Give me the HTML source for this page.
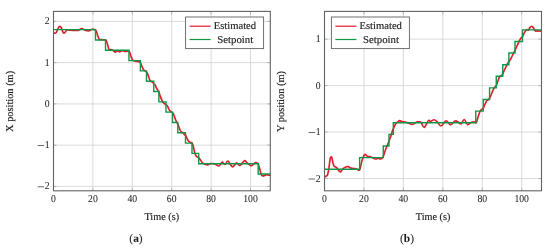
<!DOCTYPE html>
<html><head><meta charset="utf-8"><style>
html,body{margin:0;padding:0;background:#fff;width:550px;height:250px;overflow:hidden}
svg{display:block;will-change:transform}
text{text-rendering:geometricPrecision;font-family:"Liberation Serif",serif;fill:#222;stroke:#222;stroke-width:0.16px}
.g{stroke:#d2d2d2;stroke-width:0.8}
.tm{stroke:#a8a8a8;stroke-width:0.8}
.fr{fill:none;stroke:#626262;stroke-width:1.1}
.sp{fill:none;stroke:#0f9647;stroke-width:1.4;stroke-linejoin:miter}
.es{fill:none;stroke:#e01c2b;stroke-width:1.65;stroke-linejoin:round;stroke-linecap:round}
.tk{font-size:10.5px;stroke-width:0.04px}
.lg{fill:#fff;stroke:#626262;stroke-width:0.9}
.ll{stroke-width:1.2}
.lt{font-size:10.5px}
.al{font-size:10.5px}
.cap{font-size:11.4px;stroke-width:0.04px}
</style></head><body>
<svg width="550" height="250" viewBox="0 0 550 250">
<rect width="550" height="250" fill="#fff"/>
<defs><clipPath id="cX"><rect x="53.5" y="11.4" width="216.8" height="179.4"/></clipPath>
<clipPath id="cY"><rect x="324.5" y="11.4" width="217" height="179.4"/></clipPath></defs>
<line x1="53.5" y1="11.4" x2="53.5" y2="190.8" class="g"/>
<line x1="92.9" y1="11.4" x2="92.9" y2="190.8" class="g"/>
<line x1="132.3" y1="11.4" x2="132.3" y2="190.8" class="g"/>
<line x1="171.7" y1="11.4" x2="171.7" y2="190.8" class="g"/>
<line x1="211.1" y1="11.4" x2="211.1" y2="190.8" class="g"/>
<line x1="250.5" y1="11.4" x2="250.5" y2="190.8" class="g"/>
<line x1="53.5" y1="21.4" x2="270.3" y2="21.4" class="g"/>
<line x1="53.5" y1="62.65" x2="270.3" y2="62.65" class="g"/>
<line x1="53.5" y1="103.9" x2="270.3" y2="103.9" class="g"/>
<line x1="53.5" y1="145.15" x2="270.3" y2="145.15" class="g"/>
<line x1="53.5" y1="186.4" x2="270.3" y2="186.4" class="g"/>
<line x1="53.5" y1="190.8" x2="53.5" y2="187.8" class="tm"/>
<line x1="53.5" y1="11.4" x2="53.5" y2="14.4" class="tm"/>
<line x1="92.9" y1="190.8" x2="92.9" y2="187.8" class="tm"/>
<line x1="92.9" y1="11.4" x2="92.9" y2="14.4" class="tm"/>
<line x1="132.3" y1="190.8" x2="132.3" y2="187.8" class="tm"/>
<line x1="132.3" y1="11.4" x2="132.3" y2="14.4" class="tm"/>
<line x1="171.7" y1="190.8" x2="171.7" y2="187.8" class="tm"/>
<line x1="171.7" y1="11.4" x2="171.7" y2="14.4" class="tm"/>
<line x1="211.1" y1="190.8" x2="211.1" y2="187.8" class="tm"/>
<line x1="211.1" y1="11.4" x2="211.1" y2="14.4" class="tm"/>
<line x1="250.5" y1="190.8" x2="250.5" y2="187.8" class="tm"/>
<line x1="250.5" y1="11.4" x2="250.5" y2="14.4" class="tm"/>
<line x1="53.5" y1="21.4" x2="56.5" y2="21.4" class="tm"/>
<line x1="270.3" y1="21.4" x2="267.3" y2="21.4" class="tm"/>
<line x1="53.5" y1="62.65" x2="56.5" y2="62.65" class="tm"/>
<line x1="270.3" y1="62.65" x2="267.3" y2="62.65" class="tm"/>
<line x1="53.5" y1="103.9" x2="56.5" y2="103.9" class="tm"/>
<line x1="270.3" y1="103.9" x2="267.3" y2="103.9" class="tm"/>
<line x1="53.5" y1="145.15" x2="56.5" y2="145.15" class="tm"/>
<line x1="270.3" y1="145.15" x2="267.3" y2="145.15" class="tm"/>
<line x1="53.5" y1="186.4" x2="56.5" y2="186.4" class="tm"/>
<line x1="270.3" y1="186.4" x2="267.3" y2="186.4" class="tm"/>
<g clip-path="url(#cX)">
<path d="M53.5 32.6C53.68 32.7 54.22 33.13 54.6 33.2C54.98 33.27 55.42 33.33 55.8 33C56.18 32.67 56.55 31.9 56.9 31.2C57.25 30.5 57.55 29.52 57.9 28.8C58.25 28.08 58.65 27.3 59 26.9C59.35 26.5 59.67 26.33 60 26.4C60.33 26.47 60.67 26.77 61 27.3C61.33 27.83 61.67 28.78 62 29.6C62.33 30.42 62.68 31.62 63 32.2C63.32 32.78 63.6 33.03 63.9 33.1C64.2 33.17 64.52 32.87 64.8 32.6C65.08 32.33 65.32 31.9 65.6 31.5C65.88 31.1 66.13 30.47 66.5 30.2C66.87 29.93 67.22 29.88 67.8 29.9C68.38 29.92 68.97 30.22 70 30.3C71.03 30.38 72.67 30.38 74 30.4C75.33 30.42 76.7 30.7 78 30.4C79.3 30.1 80.63 28.63 81.8 28.6C82.97 28.57 83.83 29.83 85 30.2C86.17 30.57 87.57 30.97 88.8 30.8C90.03 30.63 91.37 29.35 92.4 29.2C93.43 29.05 94.37 29.6 95 29.9C95.63 30.2 95.78 30.15 96.2 31C96.62 31.85 97 33.63 97.5 35C98 36.37 98.7 38.43 99.2 39.2C99.7 39.97 99.87 39.52 100.5 39.6C101.13 39.68 102.12 39.63 103 39.7C103.88 39.77 105.2 39.7 105.8 40C106.4 40.3 106.23 40.5 106.6 41.5C106.97 42.5 107.6 44.7 108 46C108.4 47.3 108.33 48.67 109 49.3C109.67 49.93 110.97 49.33 112 49.8C113.03 50.27 114.27 51.95 115.2 52.1C116.13 52.25 116.88 50.75 117.6 50.7C118.32 50.65 118.7 51.8 119.5 51.8C120.3 51.8 121.38 50.75 122.4 50.7C123.42 50.65 124.58 51.45 125.6 51.5C126.62 51.55 127.83 50.92 128.5 51C129.17 51.08 129.15 51 129.6 52C130.05 53 130.67 55.62 131.2 57C131.73 58.38 132.17 59.63 132.8 60.3C133.43 60.97 134.3 60.8 135 61C135.7 61.2 136.13 61.28 137 61.5C137.87 61.72 139.38 61.48 140.2 62.3C141.02 63.12 141.33 65.15 141.9 66.4C142.47 67.65 143.13 69.1 143.6 69.8C144.07 70.5 144.23 70.23 144.7 70.6C145.17 70.97 145.93 71.48 146.4 72C146.87 72.52 147.13 72.95 147.5 73.7C147.87 74.45 148.23 75.48 148.6 76.5C148.97 77.52 149.32 79 149.7 79.8C150.08 80.6 150.43 80.92 150.9 81.3C151.37 81.68 151.95 81.6 152.5 82.1C153.05 82.6 153.75 83.82 154.2 84.3C154.65 84.78 154.83 84.38 155.2 85C155.57 85.62 155.8 86.87 156.4 88C157 89.13 158.2 90.53 158.8 91.8C159.4 93.07 159.53 94.3 160 95.6C160.47 96.9 161.13 98.53 161.6 99.6C162.07 100.67 162.4 101.38 162.8 102C163.2 102.62 163.6 102.95 164 103.3C164.4 103.65 164.8 103.82 165.2 104.1C165.6 104.38 166 104.63 166.4 105C166.8 105.37 167.27 105.77 167.6 106.3C167.93 106.83 168.07 107.5 168.4 108.2C168.73 108.9 169.2 109.95 169.6 110.5C170 111.05 170.33 111.17 170.8 111.5C171.27 111.83 171.97 112.12 172.4 112.5C172.83 112.88 173.1 113.22 173.4 113.8C173.7 114.38 173.87 115.1 174.2 116C174.53 116.9 175.02 118.23 175.4 119.2C175.78 120.17 176.13 121.05 176.5 121.8C176.87 122.55 177.23 122.92 177.6 123.7C177.97 124.48 178.33 125.57 178.7 126.5C179.07 127.43 179.43 128.48 179.8 129.3C180.17 130.12 180.43 130.83 180.9 131.4C181.37 131.97 182.03 132.22 182.6 132.7C183.17 133.18 183.77 133.78 184.3 134.3C184.83 134.82 185.28 134.98 185.8 135.8C186.32 136.62 186.9 138.25 187.4 139.2C187.9 140.15 188.3 140.95 188.8 141.5C189.3 142.05 189.83 142.22 190.4 142.5C190.97 142.78 191.67 142.32 192.2 143.2C192.73 144.08 193.17 146.17 193.6 147.8C194.03 149.43 194.35 151.6 194.8 153C195.25 154.4 195.85 155.53 196.3 156.2C196.75 156.87 197.05 156.7 197.5 157C197.95 157.3 198.45 157.4 199 158C199.55 158.6 200.1 159.7 200.8 160.6C201.5 161.5 202.1 162.68 203.2 163.4C204.3 164.12 206.17 164.87 207.4 164.9C208.63 164.93 209.4 163.77 210.6 163.6C211.8 163.43 213.2 163.5 214.6 163.9C216 164.3 217.77 166.28 219 166C220.23 165.72 221 162.45 222 162.2C223 161.95 224 164.7 225 164.5C226 164.3 226.75 160.62 228 161C229.25 161.38 231.08 166.5 232.5 166.8C233.92 167.1 235.25 163.02 236.5 162.8C237.75 162.58 238.68 165.85 240 165.5C241.32 165.15 243.2 161.12 244.4 160.7C245.6 160.28 246.03 162.15 247.2 163C248.37 163.85 250.03 165.87 251.4 165.8C252.77 165.73 254.3 162.93 255.4 162.6C256.5 162.27 257.27 162.7 258 163.8C258.73 164.9 259.2 167.3 259.8 169.2C260.4 171.1 260.9 174.1 261.6 175.2C262.3 176.3 263.2 175.9 264 175.8C264.8 175.7 265.6 174.7 266.4 174.6C267.2 174.5 268.15 175.13 268.8 175.2C269.45 175.27 270.05 175.03 270.3 175" class="es"/>
<path d="M53.5 29.65H95.46V39.96H105.51V50.28H128.95V60.59H140.38V70.9H146.48V81.21H153.77V91.53H158.89V101.84H165.99V112.15H172.49V122.46H177.81V132.78H185.49V143.09H191.99V153.4H198.69V163.71H258.18V174.03H270.2" class="sp"/>
</g>
<rect x="53.5" y="11.4" width="216.8" height="179.4" class="fr"/>
<text x="53.5" y="201.7" text-anchor="middle" class="tk" textLength="4.85" lengthAdjust="spacingAndGlyphs">0</text>
<text x="92.9" y="201.7" text-anchor="middle" class="tk" textLength="9.7" lengthAdjust="spacingAndGlyphs">20</text>
<text x="132.3" y="201.7" text-anchor="middle" class="tk" textLength="9.7" lengthAdjust="spacingAndGlyphs">40</text>
<text x="171.7" y="201.7" text-anchor="middle" class="tk" textLength="9.7" lengthAdjust="spacingAndGlyphs">60</text>
<text x="211.1" y="201.7" text-anchor="middle" class="tk" textLength="9.7" lengthAdjust="spacingAndGlyphs">80</text>
<text x="250.5" y="201.7" text-anchor="middle" class="tk" textLength="14.55" lengthAdjust="spacingAndGlyphs">100</text>
<text x="49.5" y="24.4" text-anchor="end" class="tk" textLength="4.85" lengthAdjust="spacingAndGlyphs">2</text>
<text x="49.5" y="65.65" text-anchor="end" class="tk" textLength="4.85" lengthAdjust="spacingAndGlyphs">1</text>
<text x="49.5" y="106.9" text-anchor="end" class="tk" textLength="4.85" lengthAdjust="spacingAndGlyphs">0</text>
<text x="49.5" y="148.15" text-anchor="end" class="tk" textLength="4.85" lengthAdjust="spacingAndGlyphs">1</text>
<rect x="37.6" y="145.25" width="6.5" height="0.7" fill="#2a2a2a"/>
<text x="49.5" y="189.4" text-anchor="end" class="tk" textLength="4.85" lengthAdjust="spacingAndGlyphs">2</text>
<rect x="37.6" y="186.5" width="6.5" height="0.7" fill="#2a2a2a"/>
<rect x="185.6" y="17" width="78" height="31.6" class="lg"/>
<line x1="189.6" y1="26.2" x2="210.6" y2="26.2" stroke="#e01c2b" class="ll"/>
<line x1="189.6" y1="39.5" x2="210.6" y2="39.5" stroke="#0f9647" class="ll"/>
<text x="213.7" y="29.1" class="lt" textLength="42.4" lengthAdjust="spacingAndGlyphs">Estimated</text>
<text x="217.2" y="42.5" class="lt" textLength="36" lengthAdjust="spacingAndGlyphs">Setpoint</text>
<line x1="324.5" y1="11.4" x2="324.5" y2="190.8" class="g"/>
<line x1="363.94" y1="11.4" x2="363.94" y2="190.8" class="g"/>
<line x1="403.38" y1="11.4" x2="403.38" y2="190.8" class="g"/>
<line x1="442.82" y1="11.4" x2="442.82" y2="190.8" class="g"/>
<line x1="482.26" y1="11.4" x2="482.26" y2="190.8" class="g"/>
<line x1="521.7" y1="11.4" x2="521.7" y2="190.8" class="g"/>
<line x1="324.5" y1="39.13" x2="541.5" y2="39.13" class="g"/>
<line x1="324.5" y1="85.6" x2="541.5" y2="85.6" class="g"/>
<line x1="324.5" y1="132.07" x2="541.5" y2="132.07" class="g"/>
<line x1="324.5" y1="178.54" x2="541.5" y2="178.54" class="g"/>
<line x1="324.5" y1="190.8" x2="324.5" y2="187.8" class="tm"/>
<line x1="324.5" y1="11.4" x2="324.5" y2="14.4" class="tm"/>
<line x1="363.94" y1="190.8" x2="363.94" y2="187.8" class="tm"/>
<line x1="363.94" y1="11.4" x2="363.94" y2="14.4" class="tm"/>
<line x1="403.38" y1="190.8" x2="403.38" y2="187.8" class="tm"/>
<line x1="403.38" y1="11.4" x2="403.38" y2="14.4" class="tm"/>
<line x1="442.82" y1="190.8" x2="442.82" y2="187.8" class="tm"/>
<line x1="442.82" y1="11.4" x2="442.82" y2="14.4" class="tm"/>
<line x1="482.26" y1="190.8" x2="482.26" y2="187.8" class="tm"/>
<line x1="482.26" y1="11.4" x2="482.26" y2="14.4" class="tm"/>
<line x1="521.7" y1="190.8" x2="521.7" y2="187.8" class="tm"/>
<line x1="521.7" y1="11.4" x2="521.7" y2="14.4" class="tm"/>
<line x1="324.5" y1="39.13" x2="327.5" y2="39.13" class="tm"/>
<line x1="541.5" y1="39.13" x2="538.5" y2="39.13" class="tm"/>
<line x1="324.5" y1="85.6" x2="327.5" y2="85.6" class="tm"/>
<line x1="541.5" y1="85.6" x2="538.5" y2="85.6" class="tm"/>
<line x1="324.5" y1="132.07" x2="327.5" y2="132.07" class="tm"/>
<line x1="541.5" y1="132.07" x2="538.5" y2="132.07" class="tm"/>
<line x1="324.5" y1="178.54" x2="327.5" y2="178.54" class="tm"/>
<line x1="541.5" y1="178.54" x2="538.5" y2="178.54" class="tm"/>
<g clip-path="url(#cY)">
<path d="M324.5 176.6C324.72 176.57 325.42 176.53 325.8 176.4C326.18 176.27 326.48 176.13 326.8 175.8C327.12 175.47 327.38 175.42 327.7 174.4C328.02 173.38 328.4 171.52 328.7 169.7C329 167.88 329.23 165.4 329.5 163.5C329.77 161.6 330.03 159.4 330.3 158.3C330.57 157.2 330.83 156.98 331.1 156.9C331.37 156.82 331.65 157.07 331.9 157.8C332.15 158.53 332.35 160.13 332.6 161.3C332.85 162.47 333.08 163.93 333.4 164.8C333.72 165.67 334.12 166.12 334.5 166.5C334.88 166.88 335.27 166.83 335.7 167.1C336.13 167.37 336.62 167.58 337.1 168.1C337.58 168.62 338.17 169.62 338.6 170.2C339.03 170.78 339.35 171.35 339.7 171.6C340.05 171.85 340.35 171.93 340.7 171.7C341.05 171.47 341.45 170.68 341.8 170.2C342.15 169.72 342.3 169.25 342.8 168.8C343.3 168.35 344.02 167.88 344.8 167.5C345.58 167.12 346.42 166.4 347.5 166.5C348.58 166.6 350.22 167.75 351.3 168.1C352.38 168.45 353.22 168.48 354 168.6C354.78 168.72 355.07 168.58 356 168.8C356.93 169.02 358.6 171.27 359.6 169.9C360.6 168.53 361.15 163.17 362 160.6C362.85 158.03 363.77 155.17 364.7 154.5C365.63 153.83 366.72 156.25 367.6 156.6C368.48 156.95 368.67 156.2 370 156.6C371.33 157 374.27 158.73 375.6 159C376.93 159.27 377.2 158.2 378 158.2C378.8 158.2 379.6 159.13 380.4 159C381.2 158.87 381.92 159.02 382.8 157.4C383.68 155.78 384.52 152.4 385.7 149.3C386.88 146.2 388.73 141.95 389.9 138.8C391.07 135.65 391.77 132.85 392.7 130.4C393.63 127.95 394.68 125.5 395.5 124.1C396.32 122.7 396.9 122.58 397.6 122C398.3 121.42 398.97 120.68 399.7 120.6C400.43 120.52 400.95 121.23 402 121.5C403.05 121.77 404.83 121.9 406 122.2C407.17 122.5 407.92 122.92 409 123.3C410.08 123.68 411.23 124.72 412.5 124.5C413.77 124.28 415.52 122.43 416.6 122C417.68 121.57 418.27 121.85 419 121.9C419.73 121.95 420.13 121.38 421 122.3C421.87 123.22 422.95 127.7 424.2 127.4C425.45 127.1 427.45 121.48 428.5 120.5C429.55 119.52 429.58 121.63 430.5 121.5C431.42 121.37 432.92 119.7 434 119.7C435.08 119.7 435.83 120.45 437 121.5C438.17 122.55 439.5 126.12 441 126C442.5 125.88 444.42 121 446 120.8C447.58 120.6 449 124.77 450.5 124.8C452 124.83 453.75 121.5 455 121C456.25 120.5 457 121.3 458 121.8C459 122.3 459.97 124.38 461 124C462.03 123.62 463.12 119.42 464.2 119.5C465.28 119.58 466.37 124 467.5 124.5C468.63 125 469.92 122.95 471 122.5C472.08 122.05 473.12 121.78 474 121.8C474.88 121.82 475.67 123.27 476.3 122.6C476.93 121.93 477.3 119.37 477.8 117.8C478.3 116.23 478.8 114.47 479.3 113.2C479.8 111.93 480.3 110.87 480.8 110.2C481.3 109.53 481.8 109.73 482.3 109.2C482.8 108.67 483.28 107.97 483.8 107C484.32 106.03 484.88 104.47 485.4 103.4C485.92 102.33 486.4 101.23 486.9 100.6C487.4 99.97 487.9 100.1 488.4 99.6C488.9 99.1 489.4 98.5 489.9 97.6C490.4 96.7 490.92 95.37 491.4 94.2C491.88 93.03 492.28 91.72 492.8 90.6C493.32 89.48 493.93 88.33 494.5 87.5C495.07 86.67 495.73 86.38 496.2 85.6C496.67 84.82 496.93 83.8 497.3 82.8C497.67 81.8 498.03 80.57 498.4 79.6C498.77 78.63 499.03 77.63 499.5 77C499.97 76.37 500.73 76.17 501.2 75.8C501.67 75.43 501.93 75.37 502.3 74.8C502.67 74.23 503.05 73.2 503.4 72.4C503.75 71.6 504.02 70.8 504.4 70C504.78 69.2 505.27 68.52 505.7 67.6C506.13 66.68 506.55 65.38 507 64.5C507.45 63.62 507.95 62.95 508.4 62.3C508.85 61.65 509.27 61.25 509.7 60.6C510.13 59.95 510.57 59.22 511 58.4C511.43 57.58 511.87 56.58 512.3 55.7C512.73 54.82 513.15 53.95 513.6 53.1C514.05 52.25 514.62 51.4 515 50.6C515.38 49.8 515.47 49.28 515.9 48.3C516.33 47.32 517.03 45.95 517.6 44.7C518.17 43.45 518.73 41.88 519.3 40.8C519.87 39.72 520.47 38.92 521 38.2C521.53 37.48 522.05 37.17 522.5 36.5C522.95 35.83 523.3 34.98 523.7 34.2C524.1 33.42 524.52 32.47 524.9 31.8C525.28 31.13 525.58 30.58 526 30.2C526.42 29.82 526.98 29.53 527.4 29.5C527.82 29.47 528.08 30.32 528.5 30C528.92 29.68 529.37 28.23 529.9 27.6C530.43 26.97 531.15 26.2 531.7 26.2C532.25 26.2 532.72 26.97 533.2 27.6C533.68 28.23 534.22 29.42 534.6 30C534.98 30.58 535.17 30.97 535.5 31.1C535.83 31.23 536.25 30.78 536.6 30.8C536.95 30.82 537.2 31.2 537.6 31.2C538 31.2 538.55 30.8 539 30.8C539.45 30.8 539.88 31.18 540.3 31.2C540.72 31.22 541.3 30.95 541.5 30.9" class="es"/>
<path d="M324.5 169.25H359.6V157.63H383.27V146.01H388.98V134.39H393.32V122.78H475.75V111.16H483.25V99.54H489.56V87.92H496.26V76.31H502.77V64.69H508.88V53.07H515V41.45H522.49V29.84H541.42" class="sp"/>
</g>
<rect x="324.5" y="11.4" width="217" height="179.4" class="fr"/>
<text x="324.5" y="201.7" text-anchor="middle" class="tk" textLength="4.85" lengthAdjust="spacingAndGlyphs">0</text>
<text x="363.94" y="201.7" text-anchor="middle" class="tk" textLength="9.7" lengthAdjust="spacingAndGlyphs">20</text>
<text x="403.38" y="201.7" text-anchor="middle" class="tk" textLength="9.7" lengthAdjust="spacingAndGlyphs">40</text>
<text x="442.82" y="201.7" text-anchor="middle" class="tk" textLength="9.7" lengthAdjust="spacingAndGlyphs">60</text>
<text x="482.26" y="201.7" text-anchor="middle" class="tk" textLength="9.7" lengthAdjust="spacingAndGlyphs">80</text>
<text x="521.7" y="201.7" text-anchor="middle" class="tk" textLength="14.55" lengthAdjust="spacingAndGlyphs">100</text>
<text x="320.5" y="42.13" text-anchor="end" class="tk" textLength="4.85" lengthAdjust="spacingAndGlyphs">1</text>
<text x="320.5" y="88.6" text-anchor="end" class="tk" textLength="4.85" lengthAdjust="spacingAndGlyphs">0</text>
<text x="320.5" y="135.07" text-anchor="end" class="tk" textLength="4.85" lengthAdjust="spacingAndGlyphs">1</text>
<rect x="308.6" y="132.17" width="6.5" height="0.7" fill="#2a2a2a"/>
<text x="320.5" y="181.54" text-anchor="end" class="tk" textLength="4.85" lengthAdjust="spacingAndGlyphs">2</text>
<rect x="308.6" y="178.64" width="6.5" height="0.7" fill="#2a2a2a"/>
<rect x="331.4" y="17" width="78" height="31.6" class="lg"/>
<line x1="335.4" y1="26.2" x2="356.4" y2="26.2" stroke="#e01c2b" class="ll"/>
<line x1="335.4" y1="39.5" x2="356.4" y2="39.5" stroke="#0f9647" class="ll"/>
<text x="359.5" y="29.1" class="lt" textLength="42.4" lengthAdjust="spacingAndGlyphs">Estimated</text>
<text x="363" y="42.5" class="lt" textLength="36" lengthAdjust="spacingAndGlyphs">Setpoint</text>
<text x="161.8" y="220.4" text-anchor="middle" class="al" textLength="34.7" lengthAdjust="spacingAndGlyphs">Time (s)</text>
<text x="433.1" y="220.4" text-anchor="middle" class="al" textLength="34.5" lengthAdjust="spacingAndGlyphs">Time (s)</text>
<text transform="translate(12.6 101.4) rotate(-90)" text-anchor="middle" class="al" textLength="61" lengthAdjust="spacingAndGlyphs">X position (m)</text>
<text transform="translate(284 101.4) rotate(-90)" text-anchor="middle" class="al" textLength="61" lengthAdjust="spacingAndGlyphs">Y position (m)</text>
<text x="136" y="241.9" text-anchor="middle" class="cap">(<tspan font-weight="bold">a</tspan>)</text>
<text x="407" y="241.9" text-anchor="middle" class="cap">(<tspan font-weight="bold">b</tspan>)</text>
</svg>
</body></html>
